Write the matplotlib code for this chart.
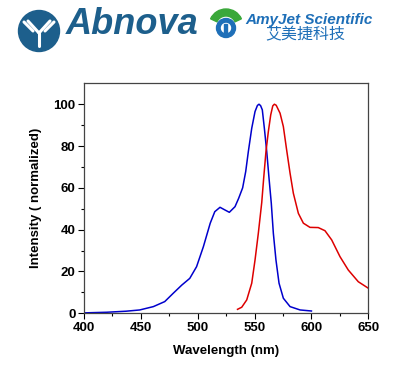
import numpy as np
import matplotlib
matplotlib.use("Agg")
from matplotlib import pyplot as plt
import matplotlib.patches as mpatches

# excitation spectrum (blue)
ex_nm = [400, 420, 437, 449, 461, 471, 478.5, 486, 493, 499, 505, 511, 515, 519.6,
         524, 527.8, 532.8, 536, 539.5, 542.2, 544.5, 547.5, 550.4, 552.5, 553.9, 555.3,
         556.8, 558.6, 560.7, 562.7, 564.7, 566.5, 568.8, 571.5, 575.3, 581.2, 590, 600]
ex_val = [0.2, 0.5, 1.0, 1.6, 3.2, 5.6, 9.6, 13.5, 16.7, 22.3, 31.9, 43.1, 48.6, 50.7,
          49.4, 48.3, 51, 55, 60, 67.8, 77.3, 88.5, 96.5, 99.4, 100, 99.3,
          97.3, 88.5, 77.3, 64.6, 52.6, 38.3, 25.5, 14.4, 7.2, 3.2, 1.6, 1.1]

# emission spectrum (red)
em_nm = [535, 538.7, 543.1, 547.5, 550.4, 553.3, 556.3, 558, 560, 562.1, 564.2, 566,
         567.4, 569, 572.4, 575.3, 578.2, 581.2, 584.1, 588.5, 592.9, 598.7, 606,
         611.9, 617.8, 625.1, 632.4, 641.2, 650]
em_val = [1.9, 2.9, 6.4, 14.4, 25.5, 38.3, 53, 64.6, 77.3, 86.9, 94.9, 99.2,
          100, 99.5, 95.7, 89.3, 78.1, 67, 57.4, 47.8, 43.1, 41.1, 41,
          39.5, 35.1, 27.1, 20.7, 15.1, 12]

x_ticks = [400, 450, 500, 550, 600, 650]
y_ticks = [0, 20, 40, 60, 80, 100]

plt.rcParams['font.family'] = ['Liberation Sans', 'Noto Sans CJK SC', 'DejaVu Sans']

fig = plt.figure(figsize=(4.06, 3.67), dpi=100)

# header with the two logos, drawn in pixel coordinates
hdr = fig.add_axes([0, 0, 1, 1])
hdr.set_xlim(0, 406)
hdr.set_ylim(367, 0)
hdr.axis('off')

teal = '#1d5f8c'
hdr.add_patch(mpatches.Circle((39, 31), 20.5, color=teal))
# antibody "Y"
for (x0, y0, x1, y1) in [(39, 33, 39, 46), (39, 33, 28, 21), (39, 33, 50, 21),
                         (33, 31, 24, 22), (45, 31, 54, 22)]:
    hdr.plot([x0, x1], [y0, y1], color='white', lw=2.2, solid_capstyle='round')
hdr.text(66, 34, 'Abnova', fontsize=26, fontweight='bold', style='italic',
         color=teal, ha='left', va='baseline')

# Amyjet logo: green arc over a blue ring (y axis is flipped here)
hdr.add_patch(mpatches.Wedge((226, 26), 17, 205, 335, width=7, color='#3aa83a'))
hdr.add_patch(mpatches.Circle((226, 28), 9.5, color='#1e6fb8'))
hdr.add_patch(mpatches.Circle((226, 28), 4.5, color='white'))
hdr.add_patch(mpatches.Rectangle((224.5, 24), 3, 9, color='#1e6fb8'))
hdr.text(245, 20, 'AmyJet Scientific', fontsize=11, fontweight='bold', style='italic',
         color='#1e6fb8', ha='left', va='center')
hdr.text(265, 35, '艾美捷科技', fontsize=11.5, color='#1e6fb8', ha='left', va='center',
         family=['Noto Sans CJK SC', 'DejaVu Sans'])

ax = fig.add_axes([84 / 406, 1 - 313.3 / 367, 284.3 / 406, 230 / 367])
ax.plot(ex_nm, ex_val, color='#0000cc', lw=1.1)
ax.plot(em_nm, em_val, color='#dd0000', lw=1.1)

ax.set_xlim(400, 650)
ax.set_ylim(0, 110)
ax.set_xticks(x_ticks)
ax.set_yticks(y_ticks)
ax.set_xticks(np.arange(425, 650, 50), minor=True)
ax.set_yticks(np.arange(10, 110, 20), minor=True)
ax.tick_params(which='major', direction='out', length=4, width=0.8, labelsize=9.5, pad=2)
ax.tick_params(which='minor', direction='out', length=2.5, width=0.8)
for lab in ax.get_xticklabels() + ax.get_yticklabels():
    lab.set_fontweight('bold')
for sp in ax.spines.values():
    sp.set_color('#444444')
    sp.set_linewidth(0.9)

ax.set_xlabel('Wavelength (nm)', fontsize=9.5, fontweight='bold', labelpad=8)
ax.set_ylabel('Intensity ( normalized)', fontsize=9.5, fontweight='bold', labelpad=8)

fig.savefig('out.png', dpi=100)
